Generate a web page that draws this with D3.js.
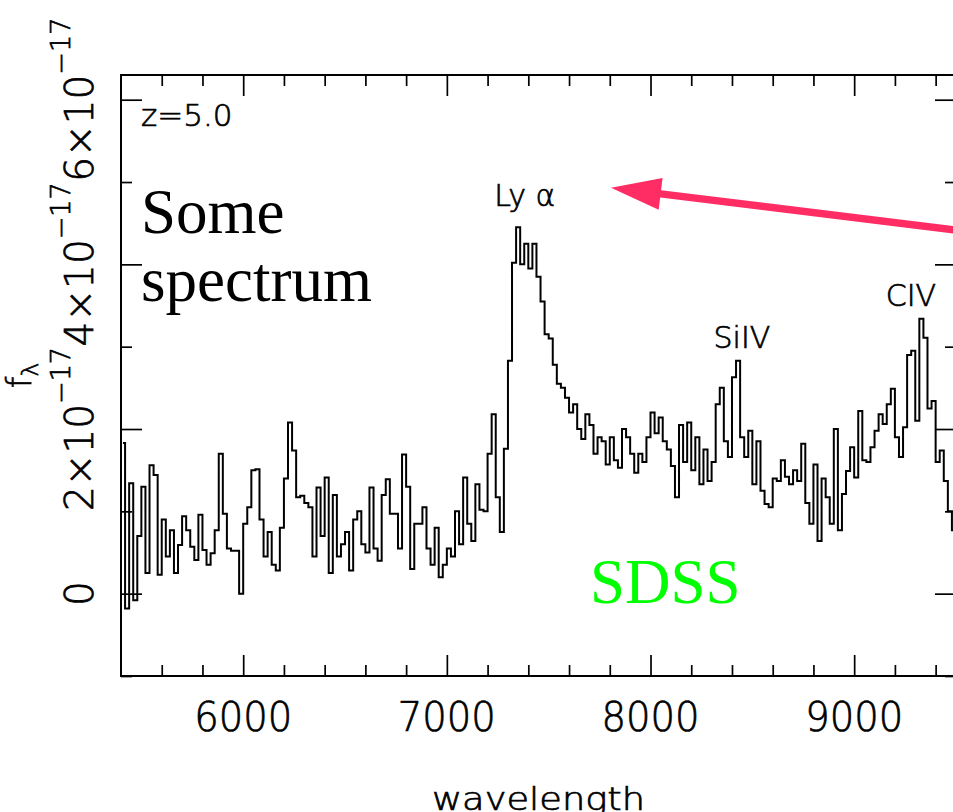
<!DOCTYPE html>
<html>
<head>
<meta charset="utf-8">
<script src="https://cdn.jsdelivr.net/npm/d3@7"></script>
<style>
  html, body { margin: 0; padding: 0; background: #fff; overflow: hidden; }
  svg { display: block; }
  .pg { font-family: "DejaVu Sans", sans-serif; font-weight: 200; fill: #000;
        stroke: #000; stroke-width: 0.7px; }
  .serif { font-family: "Liberation Serif", "Times New Roman", serif; }
</style>
</head>
<body>
<svg id="chart" width="953" height="812"></svg>
<script>
// ---- data -------------------------------------------------------------
// Observed-frame spectrum, flux density f_lambda in units of 1e-17,
// one value per 20 Å bin, first bin centred on 5410 Å.
const binStart = 5410;
const binWidth = 20;
const flux = [
  1.83, -0.18, 1.34, -0.08, 0.70, 1.30, 0.25, 1.56, 1.44, 0.23,   // 5410-5590
  0.90, 0.45, 0.77, 0.25, 0.59, 0.94, 0.77, 0.57, 0.41, 0.96,     // 5610-5790
  0.53, 0.35, 0.49, 0.77, 1.70, 0.97, 0.55, 0.52, 0.52, 0.00,     // 5810-5990
  0.85, 1.05, 1.50, 1.51, 0.90, 0.45, 0.75, 0.35, 0.28, 0.80,     // 6010-6190
  1.40, 2.08, 1.74, 1.17, 1.19, 1.10, 1.05, 0.45, 1.29, 0.70,     // 6210-6390
  1.41, 0.25, 1.20, 0.45, 0.60, 0.75, 0.28, 0.90, 1.00, 0.60,     // 6410-6590
  0.50, 1.29, 0.55, 0.40, 1.20, 1.39, 0.97, 0.97, 0.55, 1.69,     // 6610-6790
  1.30, 0.30, 0.85, 0.85, 1.05, 0.55, 0.35, 0.80, 0.20, 0.35,     // 6810-6990
  0.55, 0.45, 1.00, 0.60, 1.41, 0.85, 0.64, 1.33, 1.02, 1.00,     // 7010-7190
  1.70, 2.18, 1.17, 0.75, 1.76, 2.83, 4.02, 4.45, 4.00, 4.25,     // 7210-7390
  3.95, 4.25, 3.85, 3.55, 3.15, 3.10, 2.78, 2.55, 2.50, 2.38,     // 7410-7590
  2.20, 2.30, 2.00, 1.88, 2.18, 2.05, 1.70, 1.90, 1.85, 1.57,     // 7610-7790
  1.90, 1.62, 1.53, 2.00, 1.90, 1.70, 1.47, 1.70, 1.60, 1.90,     // 7810-7990
  2.20, 1.95, 2.14, 1.85, 1.75, 1.55, 1.17, 2.05, 1.60, 2.08,     // 8010-8190
  1.50, 1.90, 1.33, 1.75, 1.37, 1.60, 2.30, 2.50, 1.85, 1.66,     // 8210-8390
  2.63, 2.83, 1.90, 1.66, 1.98, 1.33, 1.85, 1.25, 1.09, 1.05,     // 8410-8590
  1.40, 1.37, 1.62, 1.42, 1.33, 1.50, 1.37, 1.82, 1.10, 0.85,     // 8610-8790
  1.57, 0.64, 1.40, 1.17, 0.85, 2.00, 0.77, 1.21, 1.49, 1.78,     // 8810-8990
  1.41, 2.22, 1.62, 1.60, 1.78, 1.98, 2.18, 2.06, 2.30, 2.49,     // 9010-9190
  1.90, 1.66, 2.02, 2.90, 2.95, 2.10, 3.34, 3.11, 2.25, 2.34,     // 9210-9390
  1.60, 1.74, 1.37, 1.00, 0.77                                    // 9410-9490
];

const xMajorTicks = [6000, 7000, 8000, 9000];
const xMinorTicks = [5600, 5800, 6200, 6400, 6600, 6800, 7200, 7400, 7600, 7800,
                     8200, 8400, 8600, 8800, 9200, 9400];
const yMajorTicks = [0, 2, 4, 6];
const yMinorTicks = [-1, 1, 3, 5];
const yTickMantissa = ["0", "2×10", "4×10", "6×10"];
const yTickExponent = ["", "−17", "−17", "−17"];

// emission-line labels, placed in data coordinates (Å, 1e-17)
const lineNames = ["Ly α", "SiIV", "CIV"];
const lineLabelWave = [7383, 8449, 9279];
const lineLabelFlux = [4.71, 2.99, 3.49];

// ---- layout -------------------------------------------------------------
const svg = d3.select("#chart");
const plot = { left: 121, right: 956, top: 75, bottom: 676 };

const x = d3.scaleLinear().domain([5400, 9500]).range([plot.left, plot.right]);
const y = d3.scaleLinear().domain([-1, 6.3]).range([plot.bottom, plot.top]);

const spectrum = flux.map((f, i) => ({ w: binStart + i * binWidth, f }));

// ---- frame and inward ticks on all four sides ----------------------------
function tickAxis(axisFn, scale, values, size, transform) {
  const g = svg.append("g")
    .attr("transform", transform)
    .call(axisFn(scale).tickValues(values).tickSize(-size).tickSizeOuter(0).tickFormat(""));
  g.select(".domain").remove();
  g.selectAll(".tick line").attr("stroke", "#000").attr("stroke-width", 1.7);
  return g;
}
tickAxis(d3.axisBottom, x, xMajorTicks, 21, `translate(0,${plot.bottom})`);
tickAxis(d3.axisBottom, x, xMinorTicks, 11, `translate(0,${plot.bottom})`);
tickAxis(d3.axisTop, x, xMajorTicks, 21, `translate(0,${plot.top})`);
tickAxis(d3.axisTop, x, xMinorTicks, 11, `translate(0,${plot.top})`);
tickAxis(d3.axisLeft, y, yMajorTicks, 21, `translate(${plot.left},0)`);
tickAxis(d3.axisLeft, y, yMinorTicks, 11, `translate(${plot.left},0)`);
tickAxis(d3.axisRight, y, yMajorTicks, 21, `translate(${plot.right},0)`);
tickAxis(d3.axisRight, y, yMinorTicks, 11, `translate(${plot.right},0)`);

svg.append("rect")
  .attr("x", plot.left).attr("y", plot.top)
  .attr("width", plot.right - plot.left).attr("height", plot.bottom - plot.top)
  .attr("fill", "none").attr("stroke", "#000").attr("stroke-width", 2);

// ---- spectrum as a histogram-style step line ------------------------------
const line = d3.line()
  .x(d => x(d.w))
  .y(d => y(d.f))
  .curve(d3.curveStep);

svg.append("path")
  .datum(spectrum)
  .attr("d", line)
  .attr("fill", "none")
  .attr("stroke", "#000")
  .attr("stroke-width", 2)
  .attr("stroke-linejoin", "miter");

// ---- tick labels ------------------------------------------------------------
svg.append("g").selectAll("text")
  .data(xMajorTicks)
  .join("text")
  .attr("class", "pg")
  .attr("x", d => x(d))
  .attr("y", 731)
  .attr("text-anchor", "middle")
  .attr("font-size", 41)
  .attr("textLength", 98)
  .attr("lengthAdjust", "spacingAndGlyphs")
  .text(d => d);

const yLab = svg.append("g").selectAll("text")
  .data(yMajorTicks)
  .join("text")
  .attr("class", "pg")
  .attr("text-anchor", "middle")
  .attr("font-size", 39)
  .attr("transform", d => `translate(93,${y(d)}) rotate(-90)`);
yLab.append("tspan").text((d, i) => yTickMantissa[i]);
yLab.append("tspan")
  .attr("dy", -23)
  .attr("font-size", 27)
  .text((d, i) => yTickExponent[i]);

// ---- axis titles --------------------------------------------------------------
svg.append("text")
  .attr("class", "pg")
  .attr("x", (plot.left + plot.right) / 2)
  .attr("y", 810)
  .attr("text-anchor", "middle")
  .attr("font-size", 32)
  .attr("textLength", 213)
  .attr("lengthAdjust", "spacingAndGlyphs")
  .text("wavelength");

const yTitle = svg.append("text")
  .attr("class", "pg")
  .attr("text-anchor", "middle")
  .attr("font-size", 33)
  .attr("transform", `translate(31,${(plot.top + plot.bottom) / 2}) rotate(-90)`);
yTitle.append("tspan").text("f");
yTitle.append("tspan").attr("dy", 7).attr("font-size", 23).text("λ");

// ---- in-plot annotations ------------------------------------------------------------
svg.append("text")
  .attr("class", "pg")
  .attr("x", plot.left + 20)
  .attr("y", 126)
  .attr("font-size", 31)
  .text("z=5.0");

svg.append("g").selectAll("text")
  .data(lineNames)
  .join("text")
  .attr("class", "pg")
  .attr("x", (d, i) => x(lineLabelWave[i]))
  .attr("y", (d, i) => y(lineLabelFlux[i]))
  .attr("text-anchor", "middle")
  .attr("font-size", 30)
  .attr("xml:space", "preserve")
  .text(d => d);

const note = svg.append("text")
  .attr("class", "serif")
  .attr("font-size", 63)
  .attr("fill", "#000");
note.append("tspan").attr("x", 141).attr("y", 233).text("Some");
note.append("tspan").attr("x", 141).attr("y", 301).text("spectrum");

svg.append("text")
  .attr("class", "serif")
  .attr("x", 590)
  .attr("y", 603)
  .attr("font-size", 63)
  .attr("fill", "#00ff00")
  .text("SDSS");

// ---- pointer arrow towards the Lyman-alpha peak ----------------------------------
const arrowTip = [x(7806), y(4.93)];
const arrowTail = [x(9716), y(4.35)];
const arrowColor = "#ff2d64";
const dx = arrowTail[0] - arrowTip[0], dy = arrowTail[1] - arrowTip[1];
const len = Math.hypot(dx, dy);
const ux = dx / len, uy = dy / len;
const headLen = 50, headHalf = 16;
const base = [arrowTip[0] + ux * headLen, arrowTip[1] + uy * headLen];

svg.append("line")
  .attr("x1", base[0] - ux * 4).attr("y1", base[1] - uy * 4)
  .attr("x2", arrowTail[0]).attr("y2", arrowTail[1])
  .attr("stroke", arrowColor)
  .attr("stroke-width", 7.5);

svg.append("path")
  .attr("d", d3.line()([
    arrowTip,
    [base[0] - uy * headHalf, base[1] + ux * headHalf],
    [base[0] + uy * headHalf, base[1] - ux * headHalf]
  ]) + "Z")
  .attr("fill", arrowColor);
</script>
</body>
</html>
